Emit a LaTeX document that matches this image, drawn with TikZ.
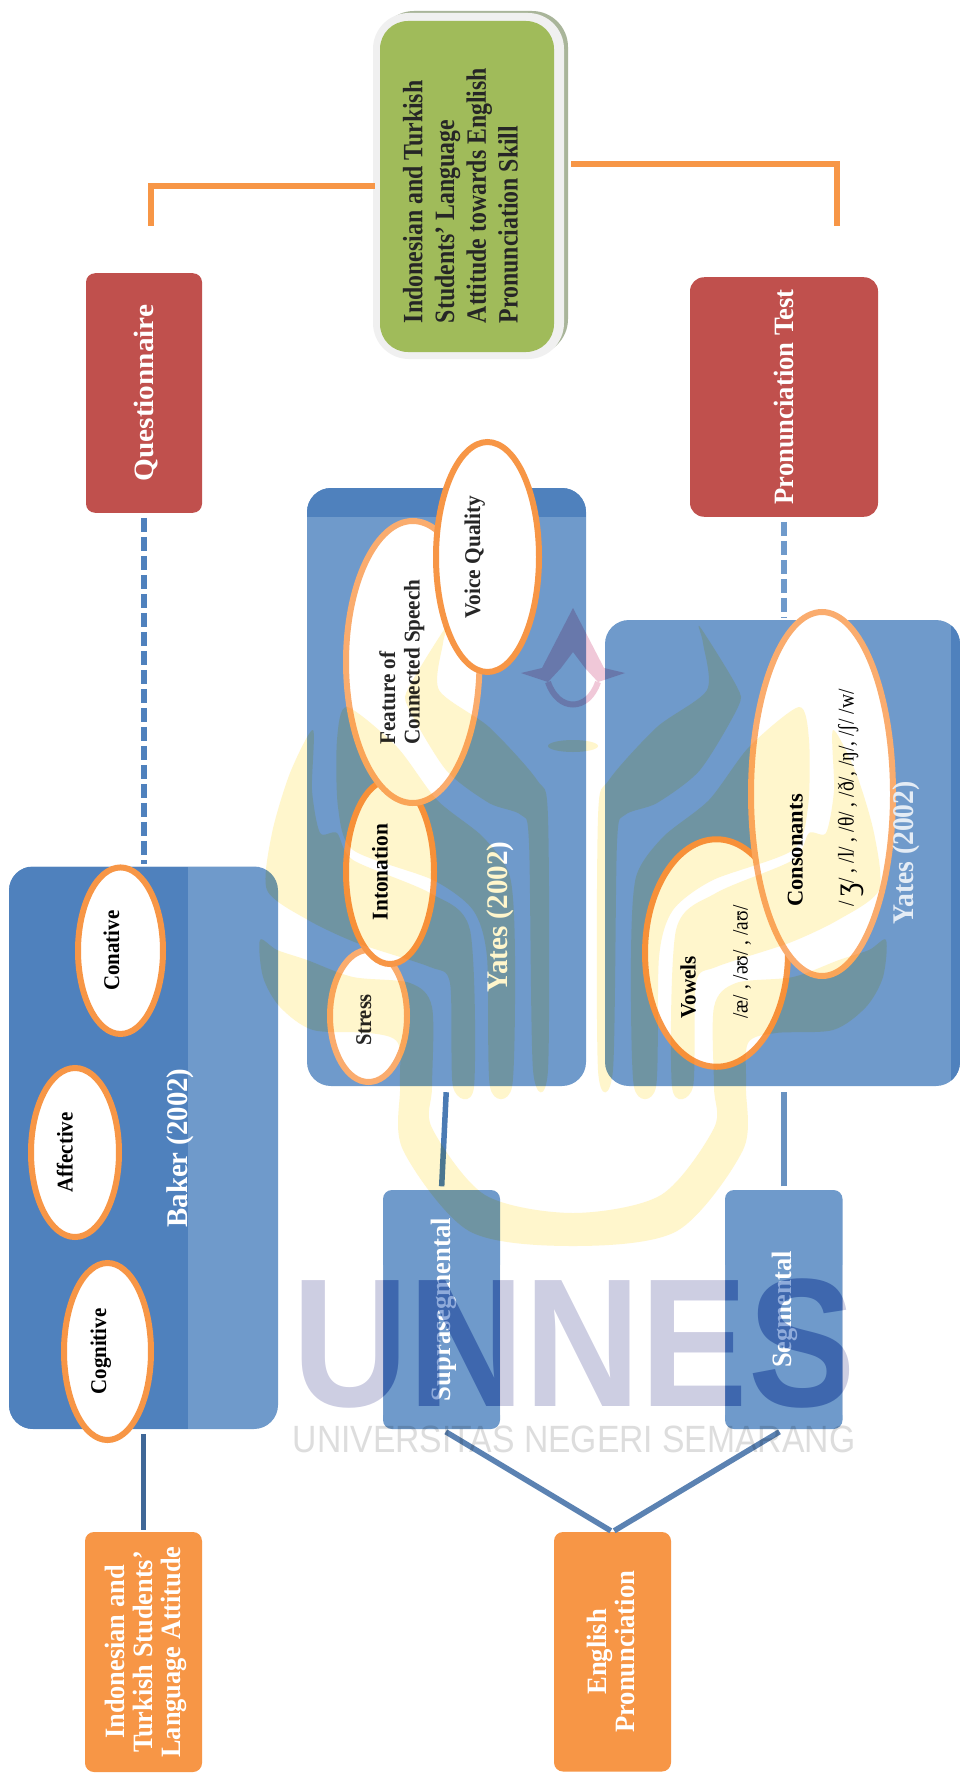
\documentclass[tikz,border=0pt]{standalone}
\usepackage{graphicx}
\usepackage{xcolor}
\usepackage{fontspec}
\setmainfont{Liberation Serif}
\newfontfamily\logofont{Liberation Sans}
\usetikzlibrary{positioning, shapes.geometric}
\definecolor{tagorange}{HTML}{F79646}
\definecolor{softorange}{HTML}{FAAC6E}
\definecolor{tagred}{HTML}{C0504D}
\definecolor{tagblue}{HTML}{6F9ACB}
\definecolor{bandblue}{HTML}{4F81BD}
\definecolor{linkblue}{HTML}{5B82B2}
\definecolor{focusgreen}{HTML}{A0BB5A}
\definecolor{focusrim}{HTML}{F0F0F0}
\definecolor{focusback}{HTML}{A9B59A}
\definecolor{markyellow}{HTML}{FFF6CC}
\definecolor{markpink}{HTML}{F0C8D8}
\definecolor{markword}{HTML}{8FABDB}
\definecolor{marklift}{HTML}{8D6830}
\definecolor{markgrey}{HTML}{DDDDDD}
% raise, stretch
\newcommand{\rtext}[3]{\raisebox{#1pt}[0pt][0pt]{\scalebox{#2}[1]{#3}}}
\begin{document}
\begin{tikzpicture}[
      x=1pt, y=-1pt,
      box/.style={
        rectangle,
        rounded corners=9pt,
        rotate=90,
        inner sep=0pt,
        text=white,
        font=\bfseries\fontsize{28}{27.8}\selectfont
      },
      panel/.style={
        rectangle,
        rounded corners=24pt,
        fill=tagblue,
        inner sep=0pt
      },
      oval/.style={
        ellipse,
        draw=tagorange,
        line width=6pt,
        fill=white,
        rotate=90,
        inner sep=0pt,
        font=\bfseries\fontsize{22.5}{24.6}\selectfont
      },
      panellabel/.style={
        rotate=90,
        anchor=base,
        inner sep=0pt,
        font=\bfseries\fontsize{30}{32}\selectfont
      },
      orangelink/.style={draw=tagorange, line width=6pt},
      bluelink/.style={draw=#1, line width=5.5pt}
    ]
    \useasboundingbox (0,0) rectangle (960,1776);
    \fill[white] (0,0) rectangle (960,1776);

    % Nodes
    \node[rectangle, rounded corners=36pt, fill=focusback, minimum width=190pt, minimum height=344pt] (focusshadow) at (473,183) {};
    \node[rectangle, rounded corners=36pt, fill=focusrim, minimum width=191pt, minimum height=346pt] (focusrim) at (468.5,186) {};
    \node[box, rounded corners=28pt, fill=focusgreen, minimum width=331pt, minimum height=174pt, text=black!85, font=\bfseries\fontsize{28}{31.7}\selectfont] (focus) at (467,186.5)
      {\rtext{-50.5}{.85}{\begin{tabular}[b]{@{}l@{}}Indonesian and Turkish\\Students' Language\\Attitude towards English\\Pronunciation Skill\end{tabular}}\hspace*{18pt}};

    \node[box, fill=tagred, minimum width=239.5pt, minimum height=116pt] (questionnaire) at (144,393) {\rtext{-9}{1.045}{Questionnaire}};
    \node[box, rounded corners=14pt, fill=tagred, minimum width=239.5pt, minimum height=188pt] (pronuntest) at (784,397) {\rtext{-9}{.95}{Pronunciation Test}};

    \node[panel, minimum width=269pt, minimum height=562.5pt, path picture={
        \fill[bandblue, sharp corners] (path picture bounding box.north west) rectangle ([xshift=179pt]path picture bounding box.south west);
      }] (bakerpanel) at (143.5,1147.75) {};
    \node[panel, minimum width=279pt, minimum height=598pt, path picture={
        \fill[bandblue, sharp corners] (path picture bounding box.north west) rectangle ([yshift=-29pt]path picture bounding box.north east);
      }] (suprapanel) at (446.5,787) {};
    \node[panel, minimum width=355pt, minimum height=466pt, path picture={
        \fill[bandblue, sharp corners] ([xshift=-9pt]path picture bounding box.north east) rectangle (path picture bounding box.south east);
      }] (segpanel) at (782.5,853) {};

    \node[oval, minimum width=166.5pt, minimum height=85pt] (conative) at (120.5,950.7) {\rtext{1.5}{.93}{Conative}};
    \node[oval, minimum width=169pt, minimum height=88pt] (affective) at (75,1152.5) {\rtext{2.3}{.93}{Affective}};
    \node[oval, minimum width=177pt, minimum height=87pt] (cognitive) at (107.5,1351.5) {\rtext{1.5}{.93}{Cognitive}};

    \node[oval, draw=softorange, minimum width=132pt, minimum height=77pt, text=black!85] (stress) at (368.5,1016) {\rtext{-2.5}{.91}{Stress}\hspace*{8pt}};
    \node[oval, minimum width=184pt, minimum height=88pt] (intonation) at (390,872) {\rtext{2.5}{.95}{Intonation}};
    \node[oval, draw=softorange, minimum width=282pt, minimum height=133.5pt, text=black!85] (feature) at (412.75,662)
      {\rtext{-6.9}{.94}{\begin{tabular}[b]{@{}l@{}}Feature of\\Connected Speech\end{tabular}}};
    \node[oval, minimum width=230pt, minimum height=103pt, text=black!85] (voice) at (487.5,557) {\rtext{7.5}{.95}{Voice Quality}};

    \node[oval, minimum width=227.5pt, minimum height=143pt, font=\bfseries\fontsize{22}{52}\selectfont] (vowels) at (716.5,953)
      {\rtext{-31}{.96}{\begin{tabular}[b]{@{}l@{}}Vowels\\\mdseries\scalebox{.92}[1]{/æ/ , /əʊ/ , /aʊ/}\end{tabular}}\hspace*{18pt}};
    \node[oval, draw=softorange, minimum width=364pt, minimum height=142pt, font=\bfseries\fontsize{22.5}{51}\selectfont] (consonants) at (822,794)
      {\rtext{-31.7}{1}{\begin{tabular}[b]{@{}l@{}}Consonants\\\mdseries\scalebox{.87}[1]{/ \raisebox{-3pt}{\scalebox{1.5}{ʒ}}/ , /l/ , /θ/ , /ð/, /ŋ/, /ʃ/ /w/}\end{tabular}}\hspace*{8pt}};

    \node[panellabel, text=white] (bakerlabel) at (187.7,1148) {\scalebox{.96}[1]{Baker (2002)}};
    \node[panellabel, text=white] (yatesupper) at (507.7,917) {\scalebox{.97}[1]{Yates (2002)}};
    \node[panellabel, text=white!85!bandblue] (yateslower) at (913,853) {\scalebox{.92}[1]{Yates (2002)}};

    \node[box, fill=tagorange, minimum width=240pt, minimum height=117pt, font=\bfseries\fontsize{28}{27.5}\selectfont] (attitude) at (143.5,1652)
      {\rtext{-36.5}{.94}{\begin{tabular}[b]{@{}c@{}}Indonesian and\\Turkish Students'\\Language Attitude\end{tabular}}};
    \node[box, fill=tagorange, minimum width=239.5pt, minimum height=117pt] (enpron) at (612.5,1651.75)
      {\rtext{-22}{.95}{\begin{tabular}[b]{@{}c@{}}English\\Pronunciation\end{tabular}}};
    \node[box, fill=tagblue, minimum width=239pt, minimum height=117pt] (supra) at (441.5,1309.5) {\rtext{-8.5}{.95}{Suprasegmental}};
    \node[box, fill=tagblue, minimum width=239pt, minimum height=117.5pt] (segment) at (783.75,1309.5) {\rtext{-8}{.94}{Segmental}};

    \coordinate (questionfree) at (151,226);
    \coordinate (pronunfree) at (837,226);
    \coordinate (focusright) at (571,164);

    % Connectors
    \draw[orangelink, shorten >=5pt] (questionfree) |- (focus.north);
    \draw[orangelink] (pronunfree) |- (focusright);
    \draw[bluelink=bandblue, dash pattern=on 14pt off 5pt, shorten <=5pt, shorten >=2pt] (questionnaire.west) -- (questionnaire.west |- bakerpanel.north);
    \draw[bluelink=tagblue, dash pattern=on 14pt off 5pt, shorten <=5pt, shorten >=2pt] (pronuntest.west) -- (pronuntest.west |- segpanel.north);
    \draw[bluelink=black!20!bandblue, shorten <=2pt, shorten >=5pt] (attitude.east) -- (bakerpanel.south);
    \draw[bluelink=black!5!bandblue, shorten <=3.5pt, shorten >=6pt] (supra.east) -- (suprapanel.south);
    \draw[bluelink=black!5!tagblue, shorten <=3.5pt, shorten >=6pt] (segment.east) -- (segment.east |- segpanel.south);
    \draw[bluelink=linkblue, shorten <=2pt, shorten >=5pt] (enpron.east) -- (supra.west);
    \draw[bluelink=linkblue, shorten <=2pt, shorten >=5pt] (enpron.east) -- (segment.west);

    % Watermark
    \begin{scope}[blend mode=multiply, shift={(573,0)}]
      % cup
      \fill[markyellow] plot[smooth cycle, tension=.5] coordinates {(-313,940) (-310,977) (-293,1007) (-260,1030) (-203,1033) (-175,1043) (-173,1087) (-170,1150) (-104,1231) (0,1246) (104,1231) (170,1150) (173,1087) (175,1043) (203,1033) (260,1030) (293,1007) (310,977) (313,940) (296,950) (266,960) (220,977) (163,983) (141,1007) (141,1087) (141,1128) (88,1195) (0,1213) (-88,1195) (-141,1128) (-141,1087) (-141,1007) (-163,983) (-220,977) (-266,960) (-296,950)};
      \foreach \sgn in {-1,1} {
        \begin{scope}[xscale=\sgn]
          \fill[markyellow] plot[smooth cycle, tension=.45] coordinates {(-127,627) (-130,643) (-134,690) (-84,727) (-36,780) (-25,817) (-25,1070) (-40,1070) (-44,843) (-52,815) (-84,803) (-127,770) (-165,707) (-164,687)};
          \fill[markyellow] plot[smooth cycle, tension=.45] coordinates {(-226,707) (-176,747) (-136,800) (-90,837) (-63,877) (-58,957) (-61,1087) (-83,1087) (-86,957) (-100,910) (-140,880) (-220,850) (-235,807) (-236,740)};
          \fill[markyellow] plot[smooth cycle, tension=.45] coordinates {(-260,730) (-283,773) (-301,833) (-306,890) (-265,920) (-216,943) (-143,967) (-123,983) (-120,1087) (-99,1087) (-103,930) (-143,893) (-220,860) (-236,833) (-253,833) (-261,790)};
        \end{scope}
      }
      \fill[markyellow] (0,746) ellipse (25pt and 6pt);
      \fill[markpink] (0,608) -- (31,668) -- (52,673) -- (25,682) -- (12,668) -- (0,652) -- (-12,668) -- (-25,682) -- (-52,673) -- (-31,668) -- cycle;
      \draw[markpink, line width=6pt] (-25,682) .. controls (-15,712) and (15,712) .. (25,682);
    \end{scope}
    \begin{scope}[blend mode=multiply]
      \node[anchor=base, inner sep=0pt, text=markword, font=\logofont\bfseries\fontsize{183}{183}\selectfont] (unnesmark) at (574,1406) {\scalebox{.88}[1]{UNNES}};
      \node[anchor=base, inner sep=0pt, text=markgrey, font=\logofont\fontsize{38}{38}\selectfont] (unnessub) at (574,1452) {\scalebox{.886}[1]{UNIVERSITAS NEGERI SEMARANG}};
    \end{scope}
    % word is paler outside the two tags
    \fill[marklift, blend mode=screen] (280,1265) rectangle (383,1415) (500,1265) rectangle (725,1415) (842.5,1265) rectangle (875,1415);
  \end{tikzpicture}
\end{document}
